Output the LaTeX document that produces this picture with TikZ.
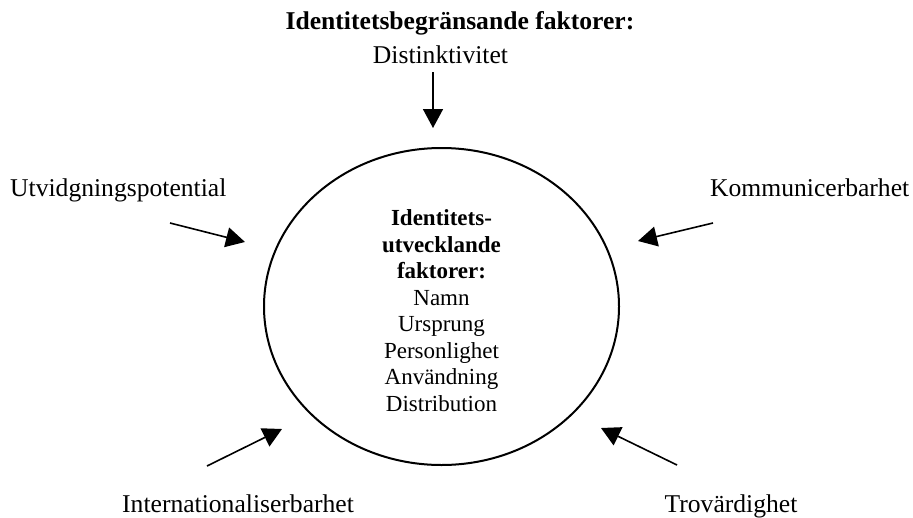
\documentclass[tikz,border=0pt]{standalone}
\usepackage{fontspec}
\setmainfont{Liberation Serif}
\usetikzlibrary{arrows.meta,shapes.geometric}
\begin{document}
\begin{tikzpicture}[x=1pt,y=-1pt,
  lbl/.style={inner sep=0pt,font=\fontsize{25.6}{29.4}\selectfont},
  core/.style={draw,ellipse,line width=2pt,minimum width=355pt,minimum height=317pt,inner sep=0pt},
  inner/.style={inner sep=0pt,align=center,font=\fontsize{23}{26.5}\selectfont},
  arr/.style={line width=1.6pt,-{Triangle[length=19pt,width=20pt]}}]
\useasboundingbox (0,0) rectangle (913,517);
\fill[white] (0,0) rectangle (913,517);
\node[core] (ell) at (441.5,306.5) {};
\node[inner,anchor=north] (txt) at (441.5,209.5) {\textbf{Identitets-}\\\textbf{utvecklande}\\\textbf{faktorer:}\\Namn\\Ursprung\\Personlighet\\Användning\\Distribution};
\node[lbl,anchor=base] (title) at (460,29) {\textbf{Identitetsbegränsande faktorer:}};
\node[lbl,anchor=base] (dist) at (440.5,63) {Distinktivitet};
\node[lbl,anchor=base west] (utv) at (10,196) {Utvidgningspotential};
\node[lbl,anchor=base west] (komm) at (710,196) {Kommunicerbarhet};
\node[lbl,anchor=base west] (intl) at (122,512) {Internationaliserbarhet};
\node[lbl,anchor=base] (trov) at (731,512.5) {Trovärdighet};
\coordinate (d1) at (433,72);   \coordinate (d2) at (433,128);
\coordinate (u1) at (170,223);  \coordinate (u2) at (245,242);
\coordinate (k1) at (713,223);  \coordinate (k2) at (638,241);
\coordinate (i1) at (207,466);  \coordinate (i2) at (282,429);
\coordinate (t1) at (677,465);  \coordinate (t2) at (601,428);
\draw[arr] (d1) -- (d2);
\draw[arr] (u1) -- (u2);
\draw[arr] (k1) -- (k2);
\draw[arr] (i1) -- (i2);
\draw[arr] (t1) -- (t2);
\end{tikzpicture}
\end{document}
